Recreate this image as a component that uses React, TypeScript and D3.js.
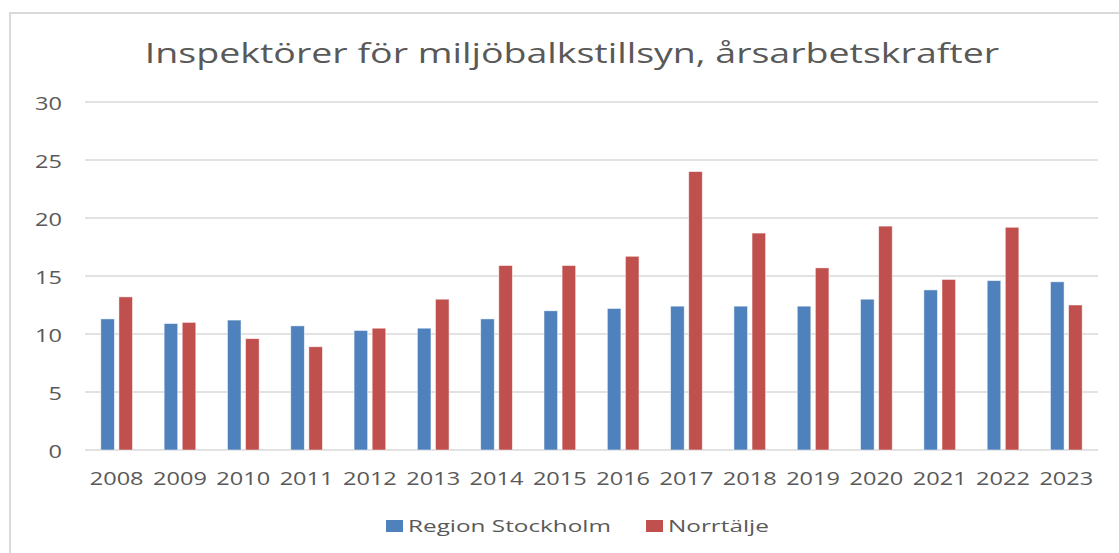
import React from 'react';
import * as d3 from 'd3';

const years = ['2008', '2009', '2010', '2011', '2012', '2013', '2014', '2015', '2016', '2017', '2018', '2019', '2020', '2021', '2022', '2023'];
const stockholm = [11.3, 10.9, 11.2, 10.7, 10.3, 10.5, 11.3, 12.0, 12.2, 12.4, 12.4, 12.4, 13.0, 13.8, 14.6, 14.5];
const norrtalje = [13.2, 11.0, 9.6, 8.9, 10.5, 13.0, 15.9, 15.9, 16.7, 24.0, 18.7, 15.7, 19.3, 14.7, 19.2, 12.5];
const seriesNames = ['Region Stockholm', 'Norrtälje'];
const yTicks = [0, 5, 10, 15, 20, 25, 30];
const title = 'Inspektörer för miljöbalkstillsyn, årsarbetskrafter';

const colors = ['#4f81bd', '#c0504d'];
const textColor = '#595959';
const font = '"Open Sans", sans-serif';

const width = 1119;
const height = 553;
const left = 85;
const right = 1098;
const top = 102;
const bottom = 450;

// text stretched horizontally around its anchor point (the picture is widened)
const T = ({ x, y, size, sx = 1.24, anchor = 'middle', children }) => (
	<text
		transform={`translate(${x}, ${y}) scale(${sx}, 1)`}
		fontSize={size}
		fontFamily={font}
		fill={textColor}
		textAnchor={anchor}
		dominantBaseline="central"
	>
		{children}
	</text>
);

const App = () => {
	const x = d3.scaleBand().domain(years).range([left, right]).paddingInner(0.5).paddingOuter(0.25);
	const sub = d3.scaleBand().domain(seriesNames).range([0, x.bandwidth()]).paddingInner(0.25);
	const y = d3.scaleLinear().domain([0, 30]).range([bottom, top]);
	const rows = years.map((yr, i) => ({ year: yr, values: [stockholm[i], norrtalje[i]] }));

	return (
		<svg width={width} height={height} style={{ position: 'absolute', left: 0, top: 0, background: '#fff' }}>
			<rect x={10} y={13} width={1120} height={560} fill="#fff" stroke="#d9d9d9" strokeWidth={2} />
			<T x={572} y={53} size={27} sx={1.39}>{title}</T>

			<g className="grid">
				{yTicks.map((t) => (
					<g key={t}>
						<line x1={left} x2={right} y1={y(t)} y2={y(t)} stroke="#d9d9d9" strokeWidth={1.5} />
						<T x={62} y={y(t)} size={19} anchor="end">{t}</T>
					</g>
				))}
			</g>

			<g className="bars">
				{rows.map((r) =>
					r.values.map((v, j) => (
						<rect
							key={r.year + j}
							x={x(r.year) + sub(seriesNames[j])}
							y={y(v)}
							width={sub.bandwidth()}
							height={y(0) - y(v)}
							fill={colors[j]}
							stroke="#ffffff"
							strokeOpacity={0.6}
							strokeWidth={0.8}
						/>
					))
				)}
			</g>

			<g className="axis x">
				{years.map((yr) => (
					<T key={yr} x={x(yr) + x.bandwidth() / 2} y={477} size={19}>{yr}</T>
				))}
			</g>

			<g className="legend">
				<rect x={386} y={520} width={17} height={12} fill={colors[0]} />
				<T x={408} y={526} size={17} sx={1.43} anchor="start">{seriesNames[0]}</T>
				<rect x={646} y={520} width={17} height={12} fill={colors[1]} />
				<T x={668} y={526} size={17} sx={1.43} anchor="start">{seriesNames[1]}</T>
			</g>
		</svg>
	);
};

export default App;
